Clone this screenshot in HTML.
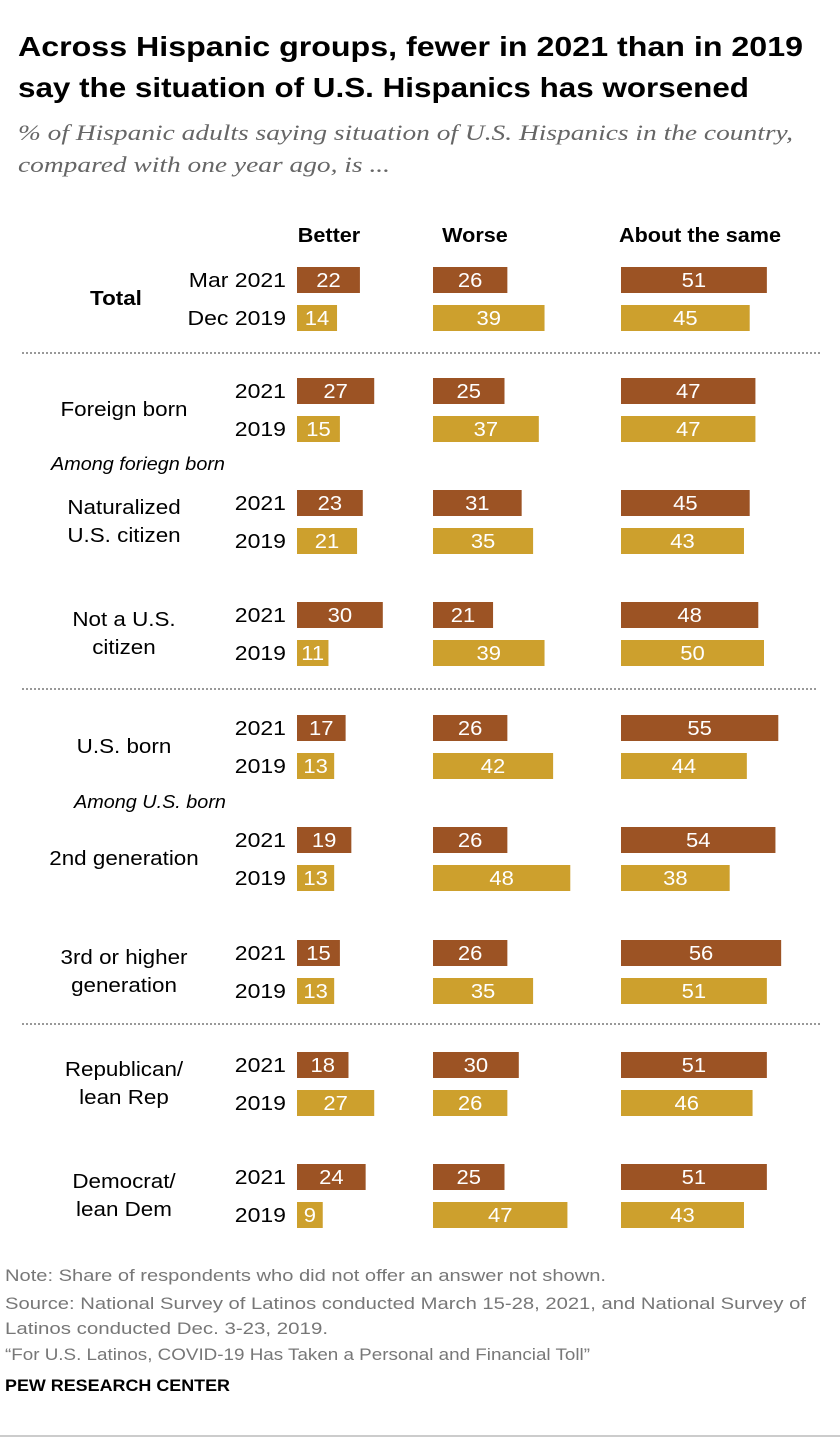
<!DOCTYPE html>
<html><head><meta charset="utf-8"><style>
body{margin:0;background:#fff;width:840px;height:1442px;overflow:hidden;font-family:"Liberation Sans",sans-serif}
</style></head><body>
<svg width="840" height="1442" xmlns="http://www.w3.org/2000/svg">
<text x="18" y="56" font-size="28" font-weight="bold" fill="#000" textLength="785" lengthAdjust="spacingAndGlyphs">Across Hispanic groups, fewer in 2021 than in 2019</text>
<text x="18" y="97" font-size="28" font-weight="bold" fill="#000" textLength="731" lengthAdjust="spacingAndGlyphs">say the situation of U.S. Hispanics has worsened</text>
<text x="18" y="140" font-size="22" font-style="italic" fill="#666" font-family="Liberation Serif,serif" textLength="775" lengthAdjust="spacingAndGlyphs">% of Hispanic adults saying situation of U.S. Hispanics in the country,</text>
<text x="18" y="172" font-size="22" font-style="italic" fill="#666" font-family="Liberation Serif,serif" textLength="372" lengthAdjust="spacingAndGlyphs">compared with one year ago, is ...</text>
<g id="g" font-size="20"></g>
<text x="5" y="1281" font-size="17" fill="#777" textLength="601" lengthAdjust="spacingAndGlyphs">Note: Share of respondents who did not offer an answer not shown.</text>
<text x="5" y="1309" font-size="17" fill="#777" textLength="801" lengthAdjust="spacingAndGlyphs">Source: National Survey of Latinos conducted March 15-28, 2021, and National Survey of</text>
<text x="5" y="1334" font-size="17" fill="#777" textLength="323" lengthAdjust="spacingAndGlyphs">Latinos conducted Dec. 3-23, 2019.</text>
<text x="5" y="1360" font-size="17" fill="#777" textLength="585" lengthAdjust="spacingAndGlyphs">“For U.S. Latinos, COVID-19 Has Taken a Personal and Financial Toll”</text>
<text x="5" y="1391" font-size="17" font-weight="bold" fill="#000" textLength="225" lengthAdjust="spacingAndGlyphs">PEW RESEARCH CENTER</text>
</svg>
<script>
const columns=["Better","Worse","About the same"];
const groupLabels=[["Total"],["Foreign born"],["Naturalized","U.S. citizen"],["Not a U.S.","citizen"],["U.S. born"],["2nd generation"],["3rd or higher","generation"],["Republican/","lean Rep"],["Democrat/","lean Dem"]];
const yearLabels=[["Mar 2021","Dec 2019"],["2021","2019"],["2021","2019"],["2021","2019"],["2021","2019"],["2021","2019"],["2021","2019"],["2021","2019"],["2021","2019"]];
const values2021=[[22,26,51],[27,25,47],[23,31,45],[30,21,48],[17,26,55],[19,26,54],[15,26,56],[18,30,51],[24,25,51]];
const values2019=[[14,39,45],[15,37,47],[21,35,43],[11,39,50],[13,42,44],[13,48,38],[13,35,51],[27,26,46],[9,47,43]];
const g=document.getElementById('g');
const NS="http://www.w3.org/2000/svg";
const colX=[297,433,621], headX=[329,475,700], scale=2.86;
const rowY=[280,391,503,615,728,840,953,1065,1177];
function t(x,y,s,attrs,stretch){const e=document.createElementNS(NS,'text');e.setAttribute('x',x);e.setAttribute('y',y);for(const k in attrs)e.setAttribute(k,attrs[k]);e.textContent=s;g.appendChild(e);
 if(stretch){const w=e.getComputedTextLength();e.setAttribute('textLength',w*stretch);e.setAttribute('lengthAdjust','spacingAndGlyphs');}
 return e;}
columns.forEach((c,i)=>{const e=t(headX[i],242,c,{'text-anchor':'middle','font-weight':'bold','font-size':20},1.08);

});
groupLabels.forEach((lab,gi)=>{
  const cy=rowY[gi]+18;
  const lx=gi===0?116:124;
  lab.forEach((l,li)=>{const y=cy+7+(li-(lab.length-1)/2)*28;
    const e=t(lx,y,l,{'text-anchor':'middle','font-weight':gi===0?'bold':'normal'},1.12);
    
    });
  [values2021[gi],values2019[gi]].forEach((vals,ri)=>{
    const y=rowY[gi]+ri*38;
    const yl=t(286,y+7,yearLabels[gi][ri],{'text-anchor':'end'},1.15);
    
    
    vals.forEach((v,ci)=>{
      const r=document.createElementNS(NS,'rect');
      r.setAttribute('x',colX[ci]);r.setAttribute('y',y-13);r.setAttribute('width',v*scale);r.setAttribute('height',26);
      r.setAttribute('fill',ri===0?'#9c5324':'#cda02d');
      
      
      g.appendChild(r);
      const e=t(colX[ci]+v*scale/2,y+7,v,{'text-anchor':'middle','fill':'#fff'},1.1);
      
      
    });
  });
});
const s1=t(138,470,'Among foriegn born',{'text-anchor':'middle','font-style':'italic','font-size':18},1.1);


const s2=t(150,808,'Among U.S. born',{'text-anchor':'middle','font-style':'italic','font-size':18},1.1);


[[353,22,822],[689,22,818],[1024,22,822]].forEach(d=>{const l=document.createElementNS(NS,'line');
l.setAttribute('x1',d[1]);l.setAttribute('x2',d[2]);l.setAttribute('y1',d[0]);l.setAttribute('y2',d[0]);
l.setAttribute('stroke','#999');l.setAttribute('stroke-width','2');l.setAttribute('stroke-dasharray','2 2');


g.appendChild(l);});
const b=document.createElementNS(NS,'line');b.setAttribute('x1',0);b.setAttribute('x2',840);b.setAttribute('y1',1436);b.setAttribute('y2',1436);b.setAttribute('stroke','#999');


g.appendChild(b);
</script>
</body></html>
